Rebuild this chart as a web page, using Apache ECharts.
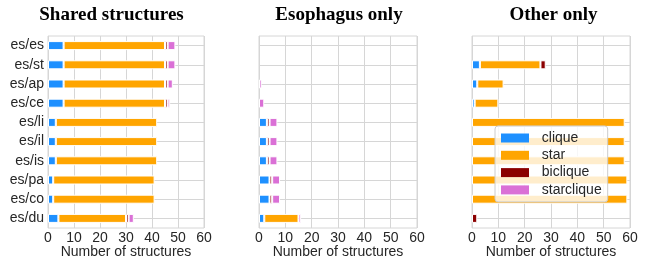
<!DOCTYPE html>
<html>
<head>
<meta charset="utf-8">
<script src="https://cdn.jsdelivr.net/npm/echarts@6/dist/echarts.min.js"></script>
<style>
html, body { margin: 0; padding: 0; background: #fff; }
#chart { width: 646px; height: 259px; }
</style>
</head>
<body>
<div id="chart"></div>
<script>
var categories = ['es/es', 'es/st', 'es/ap', 'es/ce', 'es/li', 'es/il', 'es/is', 'es/pa', 'es/co', 'es/du'];
var types = ['clique', 'star', 'biclique', 'starclique'];
var panelTitles = ['Shared structures', 'Esophagus only', 'Other only'];

// shared structures
var sharedClique     = [6, 6, 6, 6, 3, 3, 3, 2, 2, 4];
var sharedStar       = [39, 39, 39, 39, 39, 39, 39, 39, 39, 26];
var sharedBiclique   = [1, 1, 1, 1, 0, 0, 0, 0, 0, 1];
var sharedStarclique = [3, 3, 2, 1, 0, 0, 0, 0, 0, 2];

// esophagus only
var esoClique     = [0, 0, 0, 0, 3, 3, 3, 4, 4, 2];
var esoStar       = [0, 0, 0, 0, 0, 0, 0, 0, 0, 13];
var esoBiclique   = [0, 0, 0, 0, 1, 1, 1, 1, 1, 0];
var esoStarclique = [0, 0, 1, 2, 3, 3, 3, 3, 3, 1];

// other only
var otherClique     = [0, 3, 2, 1, 0, 0, 0, 0, 0, 0];
var otherStar       = [0, 23, 10, 9, 58, 58, 58, 59, 59, 0];
var otherBiclique   = [0, 2, 0, 0, 0, 0, 0, 0, 0, 2];
var otherStarclique = [0, 0, 0, 0, 0, 0, 0, 0, 0, 0];

var panelData = [
    [sharedClique, sharedStar, sharedBiclique, sharedStarclique],
    [esoClique, esoStar, esoBiclique, esoStarclique],
    [otherClique, otherStar, otherBiclique, otherStarclique]
];

var colors = ['#1E90FF', '#FFA500', '#8B0000', '#DA70D6'];
var gridColor = '#d6d6d6';
var textColor = '#262626';
var sans = 'Liberation Sans';

var lefts = [48, 259, 472];
var widths = [156, 158, 158];
var titleCenters = [111.5, 339, 553.5];

var chart = echarts.init(document.getElementById('chart'));

var grids = [], xAxes = [], yAxes = [], titles = [], series = [];
for (var p = 0; p < 3; p++) {
    grids.push({
        left: lefts[p], width: widths[p], top: 36, height: 192,
        outerBoundsMode: 'none', containLabel: false,
        show: true, borderColor: gridColor, borderWidth: 1
    });
    titles.push({
        text: panelTitles[p], left: titleCenters[p], top: 6, textAlign: 'center', padding: 0,
        textStyle: { fontFamily: 'Liberation Serif', fontWeight: 'bold', fontSize: 19, color: '#000' }
    });
    xAxes.push({
        type: 'value', gridIndex: p, min: 0, max: 60, interval: 10,
        name: 'Number of structures', nameLocation: 'middle', nameGap: 17, nameMoveOverlap: false,
        nameTextStyle: { fontFamily: sans, fontSize: 14, color: textColor },
        axisLine: { show: false }, axisTick: { show: false },
        axisLabel: { fontFamily: sans, fontSize: 14, color: textColor, margin: 3 },
        splitLine: { show: true, lineStyle: { color: gridColor, width: 1 } }
    });
    yAxes.push({
        type: 'category', gridIndex: p, data: categories, inverse: true,
        axisLine: { show: false }, axisTick: { show: false },
        axisLabel: { show: p === 0, interval: 0, fontFamily: sans, fontSize: 14, color: textColor, margin: 4 },
        splitLine: { show: false }
    });
    for (var t = 0; t < 4; t++) {
        var s = {
            type: 'bar', name: types[t], xAxisIndex: p, yAxisIndex: p,
            stack: 'panel' + p, barWidth: 9, z: 2,
            itemStyle: { color: colors[t], borderColor: '#fff', borderWidth: 1 },
            data: panelData[p][t].map(function (v) { return v === 0 ? '-' : v; })
        };
        if (t === 0) {
            // horizontal grid lines through each category
            s.markLine = {
                silent: true, symbol: 'none', z: 1, animation: false,
                label: { show: false },
                lineStyle: { color: gridColor, width: 1, type: 'solid' },
                data: categories.map(function (c) { return { yAxis: c }; })
            };
        }
        series.push(s);
    }
}

var option = {
    animation: false,
    title: titles,
    grid: grids,
    xAxis: xAxes,
    yAxis: yAxes,
    legend: {
        data: types, orient: 'vertical', left: 495, top: 126,
        icon: 'rect', itemWidth: 28, itemHeight: 9, itemGap: 3.3,
        padding: [5, 6, 5, 6],
        backgroundColor: 'rgba(255,255,255,0.8)',
        borderColor: '#cccccc', borderWidth: 1, borderRadius: 3,
        itemStyle: { borderWidth: 0 },
        formatter: function (name) { return '  ' + name; },
        textStyle: { fontFamily: sans, fontSize: 14, color: textColor }
    },
    series: series
};
chart.setOption(option);
</script>
</body>
</html>
